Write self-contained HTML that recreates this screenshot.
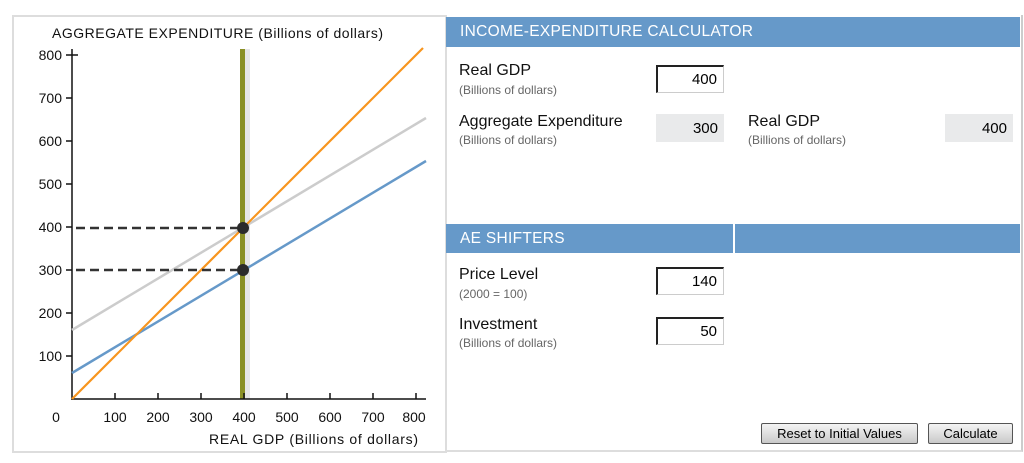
<!DOCTYPE html>
<html><head><meta charset="utf-8"><style>
*{margin:0;padding:0;box-sizing:border-box}
body{width:1024px;height:463px;background:#fff;font-family:"Liberation Sans",sans-serif;position:relative;overflow:hidden}
.a{position:absolute}
.hdr{background:#6699c9;color:#fff;font-size:15.5px;padding-left:14px;line-height:30px;letter-spacing:0.3px}
.lbl{font-size:16px;color:#111}
.sub{font-size:12px;color:#666}
.box{border:1px solid #ccc;border-left:2px solid #222;border-top:2px solid #222;background:#fff;text-align:right;padding-right:6px;font-size:15px;line-height:26px;height:28px;width:68px}
.out{background:#e9eaeb;text-align:right;padding-right:6px;font-size:15px;line-height:30px;height:28px;width:68px}
.btn{border:1px solid #555;border-radius:2px;background:linear-gradient(#f4f4f4,#c9c9c9);font-size:13px;text-align:center;line-height:19px;height:21px}
</style></head><body>
<div class="a" style="left:12px;top:15px;width:435px;height:438px;border:2px solid #ddd"></div>
<div class="a" style="left:445px;top:15px;width:578px;height:437px;border:2px solid #ddd;border-top:none;border-right:2px solid #ccc"></div>
<svg class="a" style="left:0;top:0" width="446" height="463">
<text x="52" y="38" font-size="14" fill="#111" font-family="Liberation Sans" textLength="331">AGGREGATE EXPENDITURE (Billions of dollars)</text>
<rect x="240" y="49" width="10" height="350" fill="#e6e6e6"/>
<rect x="240" y="49" width="5" height="350" fill="#8a9025"/>
<g stroke="#111" stroke-width="1.5">
<line x1="72" y1="49" x2="72" y2="400"/><line x1="72" y1="399" x2="426" y2="399"/>
<line x1="66" y1="55" x2="78" y2="55"/>
<line x1="66" y1="98" x2="72" y2="98"/><line x1="66" y1="141" x2="72" y2="141"/><line x1="66" y1="184" x2="72" y2="184"/><line x1="66" y1="227" x2="72" y2="227"/><line x1="66" y1="270" x2="72" y2="270"/><line x1="66" y1="313" x2="72" y2="313"/><line x1="66" y1="356" x2="72" y2="356"/>
<line x1="115" y1="399" x2="115" y2="393"/><line x1="158" y1="399" x2="158" y2="393"/><line x1="201" y1="399" x2="201" y2="393"/><line x1="244" y1="399" x2="244" y2="393"/><line x1="287" y1="399" x2="287" y2="393"/><line x1="330" y1="399" x2="330" y2="393"/><line x1="373" y1="399" x2="373" y2="393"/><line x1="416" y1="399" x2="416" y2="393"/>
</g>
<g font-size="14" fill="#111" text-anchor="end" font-family="Liberation Sans">
<text x="62" y="60">800</text><text x="62" y="103">700</text><text x="62" y="146">600</text><text x="62" y="189">500</text><text x="62" y="232">400</text><text x="62" y="275">300</text><text x="62" y="318">200</text><text x="62" y="361">100</text>
</g>
<g font-size="14" fill="#111" text-anchor="middle" font-family="Liberation Sans">
<text x="56" y="422">0</text><text x="115" y="422">100</text><text x="158" y="422">200</text><text x="201" y="422">300</text><text x="244" y="422">400</text><text x="287" y="422">500</text><text x="330" y="422">600</text><text x="373" y="422">700</text><text x="414" y="422">800</text>
</g>
<text x="209" y="444" font-size="14" fill="#111" font-family="Liberation Sans" textLength="209">REAL GDP (Billions of dollars)</text>
<line x1="72" y1="330" x2="426" y2="118" stroke="#cccccc" stroke-width="2.5"/>
<line x1="72" y1="373" x2="426" y2="161" stroke="#6699c9" stroke-width="2.5"/>
<line x1="72" y1="399" x2="423" y2="48" stroke="#f7951e" stroke-width="2.2"/>
<g stroke="#333" stroke-width="2.5" stroke-dasharray="9,5">
<line x1="76" y1="228" x2="240" y2="228"/><line x1="76" y1="270" x2="240" y2="270"/>
</g>
<circle cx="243" cy="228" r="6" fill="#2b2b2b"/><circle cx="243" cy="270" r="6" fill="#2b2b2b"/>
</svg>
<div class="a hdr" style="left:446px;top:17px;width:574px;height:30px">INCOME-EXPENDITURE CALCULATOR</div>
<div class="a lbl" style="left:459px;top:62px">Real GDP</div>
<div class="a sub" style="left:459px;top:83px">(Billions of dollars)</div>
<div class="a box" style="left:656px;top:65px">400</div>
<div class="a lbl" style="left:459px;top:113px">Aggregate Expenditure</div>
<div class="a sub" style="left:459px;top:133px">(Billions of dollars)</div>
<div class="a out" style="left:656px;top:114px">300</div>
<div class="a lbl" style="left:748px;top:113px">Real GDP</div>
<div class="a sub" style="left:748px;top:133px">(Billions of dollars)</div>
<div class="a out" style="left:945px;top:114px;width:68px">400</div>
<div class="a hdr" style="left:446px;top:224px;width:574px;height:29px">AE SHIFTERS</div>
<div class="a" style="left:733px;top:224px;width:2px;height:29px;background:#fff"></div>
<div class="a lbl" style="left:459px;top:266px">Price Level</div>
<div class="a sub" style="left:459px;top:287px">(2000 = 100)</div>
<div class="a box" style="left:656px;top:267px">140</div>
<div class="a lbl" style="left:459px;top:316px">Investment</div>
<div class="a sub" style="left:459px;top:336px">(Billions of dollars)</div>
<div class="a box" style="left:656px;top:317px">50</div>
<div class="a btn" style="left:761px;top:423px;width:157px">Reset to Initial Values</div>
<div class="a btn" style="left:928px;top:423px;width:85px">Calculate</div>
</body></html>
